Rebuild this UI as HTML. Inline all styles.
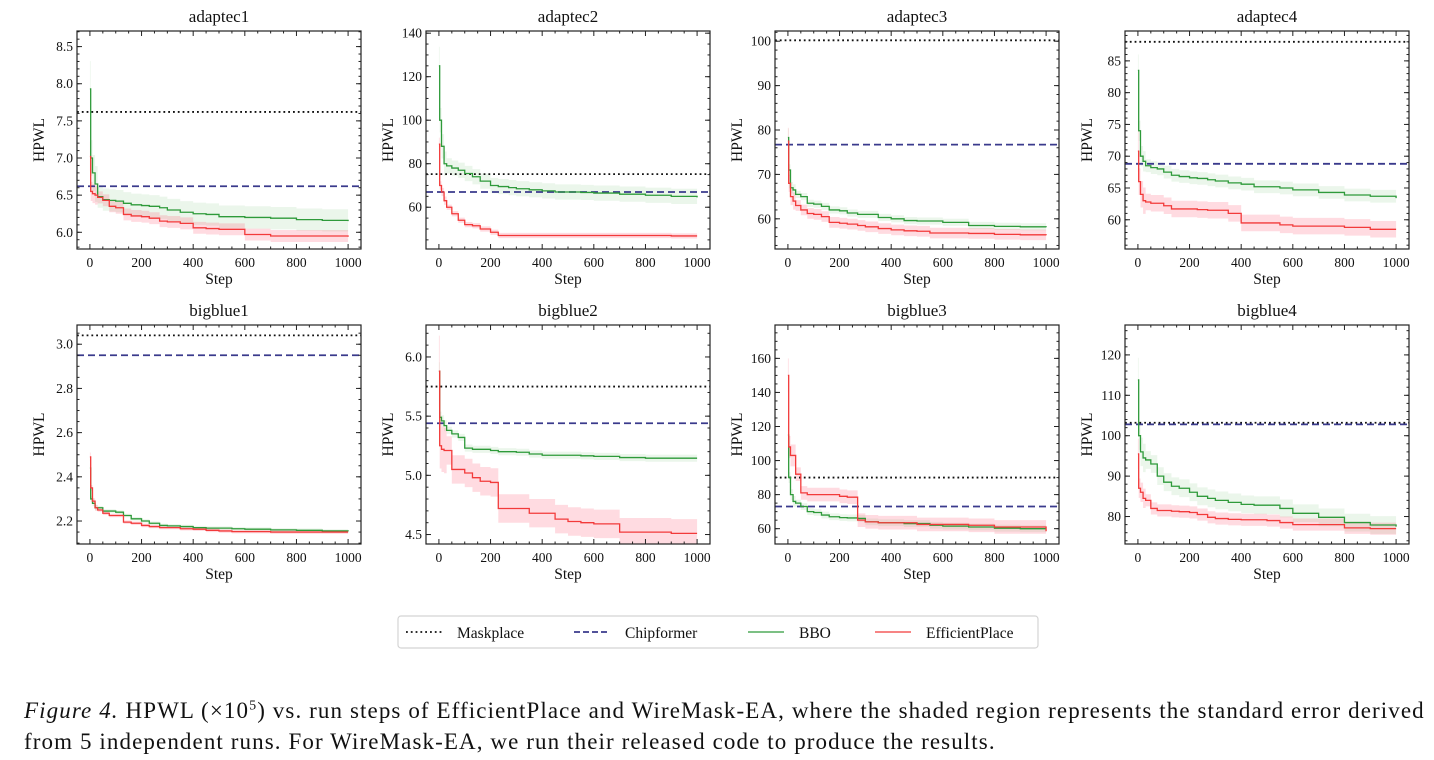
<!DOCTYPE html>
<html><head><meta charset="utf-8"><style>
body{margin:0;background:#fff;width:1434px;height:760px;overflow:hidden}
svg{display:block}
text{font-family:"Liberation Serif",serif;fill:#111}
.cap{position:absolute;left:24px;top:695px;width:1398px;font-family:'Liberation Serif',serif;font-size:23px;letter-spacing:1.1px;line-height:31px;color:#111}
.l1{display:block;text-align:justify;text-align-last:justify;white-space:nowrap}
</style></head><body>
<svg id="fig" width="1434" height="760" viewBox="0 0 1434 760" xmlns="http://www.w3.org/2000/svg"></svg>
<script>
const steps=[0,3,10,20,30,50,75,100,130,160,200,230,270,300,350,400,450,500,550,600,700,800,900,1000];
const panelNames=["adaptec1","adaptec2","adaptec3","adaptec4","bigblue1","bigblue2","bigblue3","bigblue4"];
const maskplaceVals=[7.62,75.2,100.2,88,3.04,5.75,90,103.2];
const chipformerVals=[6.62,67,76.7,68.8,2.95,5.44,73,102.8];
const yMins=[5.775,40.8,53.2,55.4,2.096,4.42,51,73.2];
const yMaxs=[8.71,141,102.3,89.7,3.087,6.27,179.6,127.4];
const yTickLabels=[["6.0","6.5","7.0","7.5","8.0","8.5"],["60","80","100","120","140"],["60","70","80","90","100"],["60","65","70","75","80","85"],["2.2","2.4","2.6","2.8","3.0"],["4.5","5.0","5.5","6.0"],["60","80","100","120","140","160"],["80","90","100","110","120"]];
const yMinorSteps=[0.1,5,2,1,0.05,0.1,5,2];
const xTickLabels=["0","200","400","600","800","1000"];
const bboVals=[
[7.93,7.0,6.8,6.65,6.48,6.44,6.43,6.42,6.39,6.37,6.36,6.35,6.33,6.30,6.27,6.25,6.24,6.21,6.21,6.20,6.19,6.17,6.16,6.15],
[125,100,88,80,79,78,77,75.5,74,72,70,69.5,69,68.5,68,67.5,67,67,66.8,66.5,66,65.5,65,64.5],
[78.3,71,67,66.5,65.5,65,63.5,63.3,62.8,62,61.8,61.3,61,61,60.3,60,59.6,59.5,59.5,59.2,58.5,58.3,58.2,58.1],
[83.5,74,70,69.2,68.5,68.2,68,67.5,67,66.8,66.6,66.5,66.3,66.1,65.8,65.6,65.2,65.2,65,64.7,64.3,63.9,63.7,63.4],
[2.44,2.30,2.28,2.26,2.26,2.245,2.245,2.24,2.225,2.21,2.20,2.19,2.18,2.178,2.175,2.17,2.168,2.168,2.165,2.163,2.16,2.158,2.155,2.153],
[5.88,5.49,5.46,5.42,5.38,5.35,5.32,5.23,5.22,5.22,5.21,5.20,5.20,5.195,5.18,5.17,5.17,5.17,5.165,5.16,5.15,5.145,5.145,5.145],
[115,90,80,76,75,73,70,69.5,68,67,66.5,66.3,66,64,63.5,63.5,63,63,62,61.5,61,60.3,60,60],
[113.8,100,96,94.5,94,93,90,88.5,87.5,87,86,85,84.5,84,83.5,83,82.8,82.8,82,80.8,79.8,78.5,77.9,77.5]];
const effVals=[
[7.02,6.55,6.52,6.50,6.47,6.43,6.35,6.33,6.24,6.22,6.21,6.19,6.15,6.14,6.12,6.06,6.05,6.04,6.04,5.97,5.95,5.95,5.95,5.94],
[89,70,67,63,60,57,54,52,51.5,50,48.5,47,47,47,47,47,47,47,47,47,47,47,46.8,46.8],
[77.5,68,65,64,63,62,61.2,61,60.5,59.2,59,58.8,58.5,58.2,57.8,57.5,57.3,57.2,56.8,56.8,56.7,56.5,56.4,56.3],
[70.8,66,64,63,62.8,62.6,62.6,62.2,61.7,61.7,61.7,61.6,61.5,61.5,61,59.5,59.5,59.5,59.2,59,59,58.8,58.5,58.5],
[2.49,2.35,2.29,2.26,2.25,2.235,2.225,2.225,2.195,2.19,2.18,2.175,2.17,2.17,2.165,2.163,2.158,2.155,2.152,2.152,2.15,2.15,2.15,2.15],
[5.88,5.25,5.22,5.21,5.21,5.05,5.05,5.02,4.98,4.95,4.94,4.72,4.72,4.72,4.68,4.68,4.63,4.61,4.60,4.59,4.52,4.52,4.51,4.51],
[150,108,103,103,92,81,80,80,80,80,79,78.5,65,64,63.5,63.5,63.5,62.5,62.5,62.5,62,61,61,58.5],
[95.5,87,86,84.5,84,82,81.5,81.5,81.3,81.2,81,80.5,79.8,79.5,79.3,79.2,79.2,79,78.5,78,78,77.2,77,77]];
const bboErrs=[0.15,3.5,0.8,1.0,0.008,0.03,2,2.2];
const effErrs=[0.08,1.2,1.2,1.3,0.008,0.12,4,1.5];

const svg=document.getElementById('fig');
const NS="http://www.w3.org/2000/svg";
function mk(tag,attrs,parent){const e=document.createElementNS(NS,tag);for(const k in attrs)e.setAttribute(k,attrs[k]);(parent||svg).appendChild(e);return e;}
const colL=[77,426,775,1125],W=284;
const rowT=[31,325],rowB=[249,544];

panelNames.forEach((name,p)=>{
  const L=colL[p%4],R=L+W,T=rowT[Math.floor(p/4)],B=rowB[Math.floor(p/4)];
  const g=mk('g',{});
  
  
  const xs=v=>L+(v+50)/1100*W;
  const ys=v=>B-(v-yMins[p])/(yMaxs[p]-yMins[p])*(B-T);
  const cid='clip'+p;
  const cp=mk('clipPath',{id:cid},g);mk('rect',{x:L,y:T,width:W,height:B-T},cp);
  const pg=mk('g',{'clip-path':'url(#'+cid+')'},g);
  function band(vals,err,fill,nm){
    let up='',lo='';
    for(let i=0;i<steps.length;i++){
      const e=err*(i==0?2.5:(i<4?1.6:1));
      const x0=xs(steps[i]),x1=xs(i<steps.length-1?steps[i+1]:1000);
      up+=(i==0?'M':'L')+x0+','+ys(vals[i]+e)+'L'+x1+','+ys(vals[i]+e);
      lo=('L'+x1+','+ys(vals[i]-e)+'L'+x0+','+ys(vals[i]-e))+lo;
    }
    const el=mk('path',{d:up+lo+'Z',fill:fill,stroke:'none'},pg);
    
    
  }
  function line(vals,color,nm){
    let d='';
    for(let i=0;i<steps.length;i++){
      const x0=xs(steps[i]),x1=xs(i<steps.length-1?steps[i+1]:1000);
      d+=(i==0?'M':'L')+x0+','+ys(vals[i])+'L'+x1+','+ys(vals[i]);
    }
    const el=mk('path',{d:d,fill:'none',stroke:color,'stroke-width':1.3},pg);
    
    
  }
  band(bboVals[p],bboErrs[p],'rgba(60,170,60,0.1)','bbo-band');
  band(effVals[p],effErrs[p],'rgba(255,90,120,0.22)','efficientplace-band');
  const m=mk('line',{x1:L,x2:R,y1:ys(maskplaceVals[p]),y2:ys(maskplaceVals[p]),stroke:'#111','stroke-width':1.8,'stroke-dasharray':'1.8 3'},pg);
  
  
  const c=mk('line',{x1:L,x2:R,y1:ys(chipformerVals[p]),y2:ys(chipformerVals[p]),stroke:'#3a3a8c','stroke-width':1.8,'stroke-dasharray':'7 4'},pg);
  
  
  line(bboVals[p],'#2e9a3a','bbo-line');
  line(effVals[p],'#f23a3a','efficientplace-line');
  mk('rect',{x:L,y:T,width:W,height:B-T,fill:'none',stroke:'#222','stroke-width':1.2},g);
  for(let v=0;v<=1000;v+=50){
    const major=v%200==0,len=major?5:2.5,x=xs(v);
    mk('line',{x1:x,x2:x,y1:B,y2:B-len,stroke:'#222'},g);
    mk('line',{x1:x,x2:x,y1:T,y2:T+len,stroke:'#222'},g);
  }
  xTickLabels.forEach(lab=>{
    const t=mk('text',{x:xs(+lab),y:B+18,'text-anchor':'middle','font-size':13.5},g);t.textContent=lab;
    
    
  });
  const ms=yMinorSteps[p];
  for(let v=Math.ceil(yMins[p]/ms)*ms;v<=yMaxs[p];v+=ms){
    const y=ys(v);
    mk('line',{x1:L,x2:L+2.5,y1:y,y2:y,stroke:'#222'},g);
    mk('line',{x1:R,x2:R-2.5,y1:y,y2:y,stroke:'#222'},g);
  }
  yTickLabels[p].forEach(lab=>{
    const y=ys(+lab);
    mk('line',{x1:L,x2:L+5,y1:y,y2:y,stroke:'#222'},g);
    mk('line',{x1:R,x2:R-5,y1:y,y2:y,stroke:'#222'},g);
    const t=mk('text',{x:L-4,y:y+4.5,'text-anchor':'end','font-size':13.5},g);t.textContent=lab;
    
    
  });
  const tt=mk('text',{x:L+W/2,y:T-9,'text-anchor':'middle','font-size':17},g);tt.textContent=name;
  
  
  const xl=mk('text',{x:L+W/2,y:B+35,'text-anchor':'middle','font-size':15.5},g);xl.textContent='Step';
  
  
  const cy=(T+B)/2;
  const yl=mk('text',{x:0,y:0,'text-anchor':'middle','font-size':15.5,transform:'translate('+(L-33)+','+cy+') rotate(-90)'},g);yl.textContent='HPWL';
  
  
});

const lg=mk('g',{});


mk('rect',{x:398,y:616,width:640,height:32,rx:3,fill:'#fff',stroke:'#d4d4d4','stroke-width':1.2},lg);
const legItems=[["Maskplace",406,'#111','1.8 3',1.8],["Chipformer",574,'#3a3a8c','6 3',1.8],["BBO",748,'#2e9a3a','',1.3],["EfficientPlace",875,'#f23a3a','',1.3]];
legItems.forEach(([lab,x,col,dash,w])=>{
  const e=mk('g',{},lg);
  
  
  mk('line',{x1:x,x2:x+36,y1:632,y2:632,stroke:col,'stroke-width':w,'stroke-dasharray':dash},e);
  const t=mk('text',{x:x+51,y:638,'font-size':15.5},e);t.textContent=lab;
});
</script>
<div class="cap">
<span class="l1"><i>Figure 4.</i> HPWL (×10<sup style="font-size:14px;line-height:0">5</sup>) vs. run steps of EfficientPlace and WireMask-EA, where the shaded region represents the standard error derived</span>
from 5 independent runs. For WireMask-EA, we run their released code to produce the results.
</div>
</body></html>
